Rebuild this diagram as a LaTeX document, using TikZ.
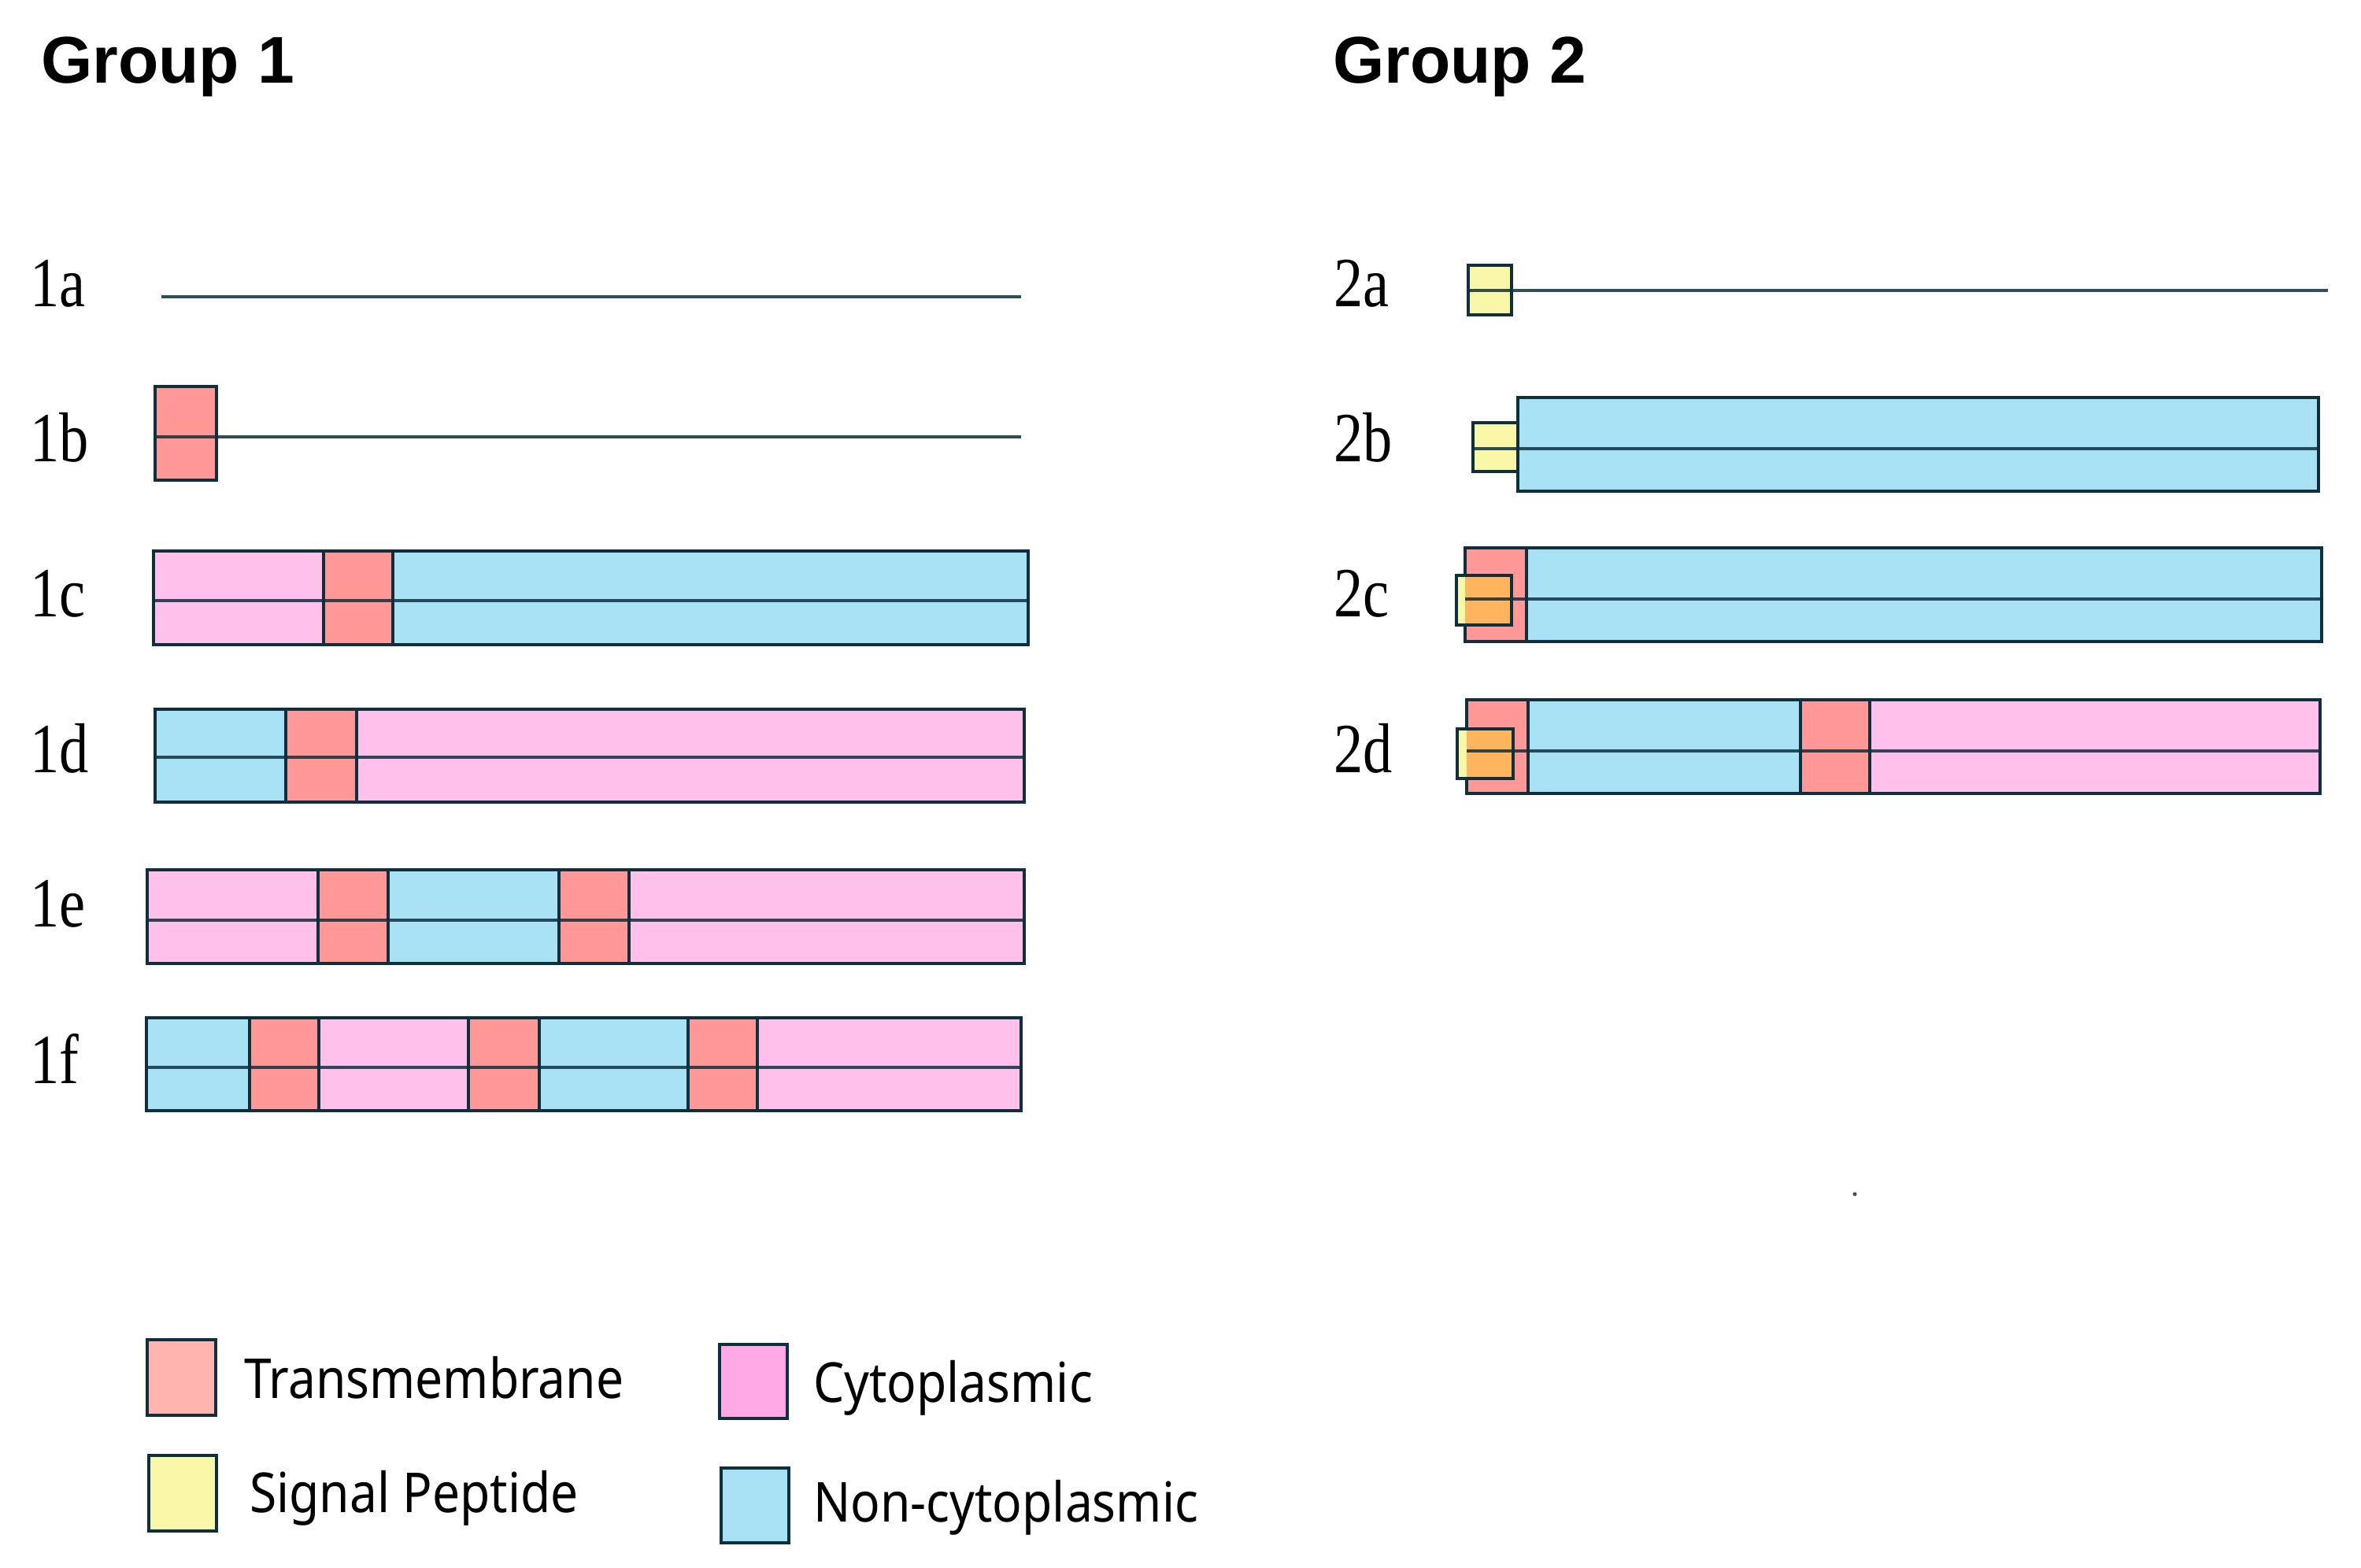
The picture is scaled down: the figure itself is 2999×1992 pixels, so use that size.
\documentclass[tikz,border=0pt]{standalone}
\usepackage{fontspec}
\setmainfont{Liberation Serif}
\newfontfamily\titlefont{Liberation Sans}
\newfontfamily\legfont{Noto Sans}
\definecolor{tm}{HTML}{FF9896}
\definecolor{cyto}{HTML}{FFC0EC}
\definecolor{ncyto}{HTML}{A8E2F4}
\definecolor{sp}{HTML}{F8F8A8}
\definecolor{ovl}{HTML}{FFB45E}
\definecolor{edge}{HTML}{0E2F3D}
\definecolor{legtm}{HTML}{FFB4B0}
\definecolor{legcyto}{HTML}{FFAAE6}
\newcommand\segm[5]{\draw[segbox,fill=#5] (#1,#3) rectangle (#2,#4);}
\begin{document}
\begin{tikzpicture}[x=1pt,y=-1pt,
  segbox/.style={draw=edge,line width=4.5pt},
  midln/.style={draw=edge,line width=4pt,opacity=.85},
  rowlabel/.style={font=\fontsize{80}{80}\selectfont,anchor=west,inner sep=0pt,xscale=0.93,yscale=1.12},
  grouptitle/.style={font=\titlefont\bfseries\fontsize{84}{90}\selectfont,anchor=base west,inner sep=0pt},
  legtext/.style={font=\legfont\fontsize{70}{76}\selectfont,anchor=west,inner sep=0pt,xscale=0.89}]
\useasboundingbox (0,0) rectangle (2999,1992);
\fill[white] (0,0) rectangle (2999,1992);
% titles
\node[grouptitle] (g1) at (52,105) {Group 1};
\node[grouptitle] (g2) at (1693,105) {Group 2};
% row labels
\node[rowlabel] (l1a) at (38,360) {1a};
\node[rowlabel] (l1b) at (38,556) {1b};
\node[rowlabel] (l1c) at (38,754) {1c};
\node[rowlabel] (l1d) at (38,951) {1d};
\node[rowlabel] (l1e) at (38,1148) {1e};
\node[rowlabel] (l1f) at (38,1345) {1f};
\node[rowlabel] (l2a) at (1694,360) {2a};
\node[rowlabel] (l2b) at (1694,556) {2b};
\node[rowlabel] (l2c) at (1694,754) {2c};
\node[rowlabel] (l2d) at (1694,951) {2d};
% 1a
\draw[midln] (205,377) -- (1297,377);
% 1b
\segm{197}{275}{491}{610}{tm}
\draw[midln] (197,555) -- (1297,555);
% 1c
\segm{195}{411}{700}{819}{cyto}
\segm{411}{499}{700}{819}{tm}
\segm{499}{1306}{700}{819}{ncyto}
\draw[midln] (195,763) -- (1306,763);
% 1d
\segm{197}{363}{901}{1019}{ncyto}
\segm{363}{453}{901}{1019}{tm}
\segm{453}{1301}{901}{1019}{cyto}
\draw[midln] (197,962) -- (1301,962);
% 1e
\segm{187}{404}{1105}{1224}{cyto}
\segm{404}{493}{1105}{1224}{tm}
\segm{493}{710}{1105}{1224}{ncyto}
\segm{710}{799}{1105}{1224}{tm}
\segm{799}{1301}{1105}{1224}{cyto}
\draw[midln] (187,1169) -- (1301,1169);
% 1f
\segm{186}{317}{1293}{1411}{ncyto}
\segm{317}{405}{1293}{1411}{tm}
\segm{405}{595}{1293}{1411}{cyto}
\segm{595}{685}{1293}{1411}{tm}
\segm{685}{874}{1293}{1411}{ncyto}
\segm{874}{962}{1293}{1411}{tm}
\segm{962}{1297}{1293}{1411}{cyto}
\draw[midln] (186,1356) -- (1297,1356);
% 2a
\segm{1865}{1920}{337}{400}{sp}
\draw[midln] (1865,369) -- (2957,369);
% 2b
\segm{1871}{1928}{537}{599}{sp}
\segm{1928}{2945}{505}{624}{ncyto}
\draw[midln] (1871,570) -- (2945,570);
% 2c
\segm{1861}{1939}{696}{815}{tm}
\segm{1939}{2949}{696}{815}{ncyto}
\fill[sp] (1850,731) rectangle (1861,794);
\fill[ovl] (1861,731) rectangle (1920,794);
\draw[midln] (1861,761) -- (2949,761);
\draw[segbox] (1850,731) rectangle (1920,794);
% 2d
\segm{1863}{1941}{889}{1008}{tm}
\segm{1941}{2287}{889}{1008}{ncyto}
\segm{2287}{2375}{889}{1008}{tm}
\segm{2375}{2947}{889}{1008}{cyto}
\fill[sp] (1851,926) rectangle (1863,989);
\fill[ovl] (1863,926) rectangle (1922,989);
\draw[midln] (1863,954) -- (2947,954);
\draw[segbox] (1851,926) rectangle (1922,989);
% stray dot
\fill[black!70] (2356,1517) circle (2.5);
% legend
\draw[segbox,fill=legtm] (187,1702) rectangle (274,1798);
\node[legtext] (t1) at (310,1750) {Transmembrane};
\draw[segbox,fill=sp] (189,1849) rectangle (275,1945);
\node[legtext] (t2) at (317,1903) {Signal Peptide};
\draw[segbox,fill=legcyto] (914,1708) rectangle (1000,1802);
\node[legtext] (t3) at (1033,1763) {Cytoplasmic};
\draw[segbox,fill=ncyto] (916,1865) rectangle (1002,1960);
\node[legtext] (t4) at (1033,1915) {Non-cytoplasmic};
\end{tikzpicture}
\end{document}
